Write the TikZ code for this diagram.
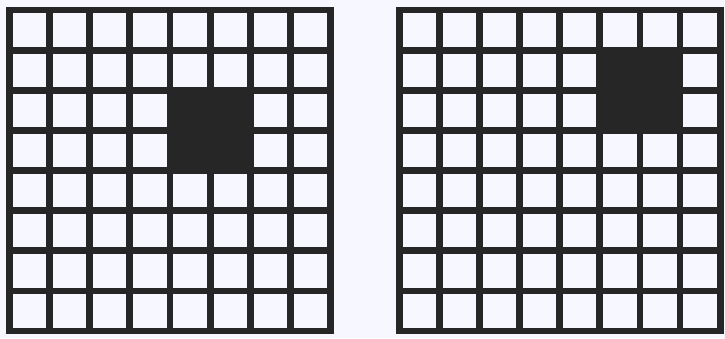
\documentclass[tikz,border=0pt]{standalone}
\usepackage{tikz}

\begin{document}
\begin{tikzpicture}[
    x=1cm,
    y=1cm,
    gridline/.style={
        draw=black!85,
        line width=0.17cm,
        line cap=rect
    },
    blackcell/.style={
        fill=black!85
    }
]

% page and background
\fill[blue!3!white] (-0.237,-0.174) rectangle (17.83,8.25);
\useasboundingbox (-0.237,-0.174) rectangle (17.83,8.25);

% left board: dark block in columns 4-5, rows 2-3 from the top
\begin{scope}
    \fill[blackcell] (4,4) rectangle (6,6);
    \draw[gridline] (0,0) grid[step=1] (8,8);
\end{scope}

% right board: dark block in columns 5-6, rows 1-2 from the top
\begin{scope}[xshift=9.71cm]
    \fill[blackcell] (5,5) rectangle (7,7);
    \draw[gridline] (0,0) grid[step=1] (8,8);
\end{scope}

\end{tikzpicture}
\end{document}
